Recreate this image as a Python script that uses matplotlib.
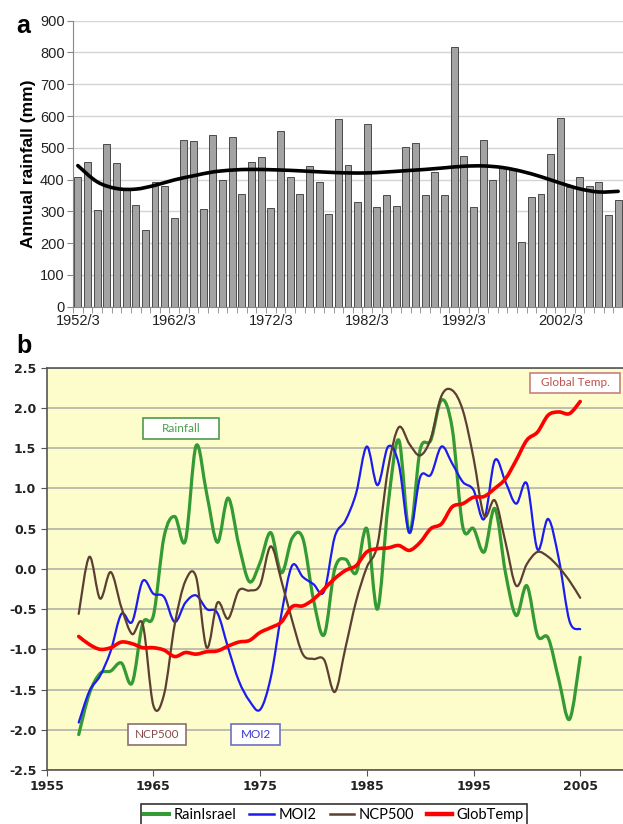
import numpy as np
import matplotlib
matplotlib.use("Agg")
import matplotlib.pyplot as plt
from matplotlib.path import Path
from matplotlib.patches import PathPatch, Rectangle
from matplotlib.lines import Line2D

# ---------------- data: panel a ----------------
season_start = list(range(1952, 2009))           # 1952/3 ... 2008/9
rainfall_mm = [408, 454, 304, 512, 452, 367, 319, 241, 391, 381,
               279, 524, 522, 306, 540, 398, 535, 354, 456, 470,
               312, 554, 407, 354, 444, 392, 292, 592, 446, 328,
               575, 315, 352, 317, 504, 514, 352, 425, 350, 818,
               474, 313, 524, 399, 435, 432, 203, 346, 356, 479,
               595, 377, 407, 380, 391, 287, 336]
# trend curve, at every second season (1952/3, 1954/5, ...)
trend_start = list(range(1952, 2009, 2))
trend_mm = [444, 393, 372, 370, 382, 399, 412, 424, 430, 432,
            431, 429, 426, 423, 421, 421, 424, 428, 432, 437,
            442, 443, 438, 426, 409, 389, 371, 361, 363]
a_tick_labels = ["1952/3", "1962/3", "1972/3", "1982/3", "1992/3", "2002/3"]

# ---------------- data: panel b ----------------
years_b = list(range(1958, 2006))
rain_israel = [-2.06, -1.55, -1.30, -1.27, -1.17, -1.42, -0.68, -0.58, 0.40, 0.65,
               0.35, 1.53, 0.93, 0.33, 0.88, 0.30, -0.16, 0.08, 0.45, -0.05,
               0.38, 0.38, -0.38, -0.82, 0.00, 0.12, -0.05, 0.50, -0.50, 0.80,
               1.60, 0.45, 1.48, 1.60, 2.10, 1.75, 0.52, 0.50, 0.21, 0.75,
               -0.05, -0.58, -0.21, -0.83, -0.86, -1.38, -1.87, -1.10]
moi2 = [-1.91, -1.52, -1.33, -1.02, -0.56, -0.66, -0.15, -0.31, -0.35, -0.66,
        -0.42, -0.33, -0.50, -0.55, -0.98, -1.39, -1.64, -1.75, -1.35, -0.56,
        0.04, -0.10, -0.19, -0.28, 0.40, 0.60, 0.94, 1.52, 1.04, 1.52,
        1.30, 0.45, 1.14, 1.17, 1.52, 1.31, 1.08, 0.98, 0.62, 1.35,
        1.08, 0.81, 1.06, 0.24, 0.62, 0.12, -0.65, -0.75]
ncp500 = [-0.56, 0.15, -0.37, -0.04, -0.48, -0.81, -0.69, -1.70, -1.56, -0.69,
          -0.15, -0.10, -0.98, -0.42, -0.62, -0.27, -0.27, -0.20, 0.28, -0.15,
          -0.64, -1.06, -1.12, -1.13, -1.53, -0.98, -0.40, 0.02, 0.30, 1.25,
          1.76, 1.55, 1.41, 1.62, 2.15, 2.22, 1.97, 1.38, 0.66, 0.85,
          0.33, -0.21, 0.06, 0.21, 0.15, 0.02, -0.15, -0.36]
glob_temp = [-0.84, -0.94, -1.00, -0.98, -0.91, -0.93, -0.98, -0.98, -1.01, -1.09,
             -1.04, -1.06, -1.03, -1.02, -0.96, -0.91, -0.89, -0.79, -0.73, -0.66,
             -0.47, -0.46, -0.38, -0.25, -0.12, -0.02, 0.04, 0.21, 0.25, 0.26,
             0.29, 0.23, 0.33, 0.50, 0.56, 0.77, 0.81, 0.89, 0.90, 1.00,
             1.12, 1.35, 1.60, 1.70, 1.91, 1.95, 1.93, 2.08]
series_names = ["RainIsrael", "MOI2", "NCP500", "GlobTemp"]
series_colors = ["#349a34", "#1c1cf0", "#5c3f32", "#ff0000"]
series_widths = [2.3, 1.6, 1.6, 2.6]
b_xticks = [1955, 1965, 1975, 1985, 1995, 2005]
b_yticks = [-2.5, -2.0, -1.5, -1.0, -0.5, 0.0, 0.5, 1.0, 1.5, 2.0, 2.5]


def smooth_path(x, y):
    """Excel-style smoothed line: cubic Bezier segments through the data points."""
    pts = np.column_stack([np.asarray(x, float), np.asarray(y, float)])
    n = len(pts)
    verts = [pts[0]]
    codes = [Path.MOVETO]
    for i in range(n - 1):
        p0 = pts[i - 1] if i > 0 else pts[i]
        p1 = pts[i]
        p2 = pts[i + 1]
        p3 = pts[i + 2] if i + 2 < n else pts[i + 1]
        c1 = p1 + (p2 - p0) / 6.0
        c2 = p2 - (p3 - p1) / 6.0
        verts += [c1, c2, p2]
        codes += [Path.CURVE4] * 3
    return Path(verts, codes)


W, H = 623, 824
fig = plt.figure(figsize=(W / 100, H / 100), dpi=100)
plt.rcParams['font.family'] = ['Liberation Sans', 'DejaVu Sans']

# ================= panel a =================
axa = fig.add_axes([73 / W, 1 - 306.7 / H, (623 - 73) / W, (306.7 - 20.7) / H])
idx = [season_start.index(s) for s in season_start]
axa.bar(idx, rainfall_mm, width=0.72, color="#a3a3a3", edgecolor="#4a4a4a",
        linewidth=0.7, zorder=2)
trend_idx = [season_start.index(s) for s in trend_start]
axa.add_patch(PathPatch(smooth_path(trend_idx, trend_mm), facecolor="none",
                        edgecolor="black", lw=2.6, zorder=3, capstyle="round"))
axa.set_xlim(-0.5, len(rainfall_mm) - 0.5)
axa.set_ylim(0, 900)
axa.set_yticks(np.arange(0, 901, 100))
axa.yaxis.grid(True, color="#d4d4d4", lw=1.0, zorder=0)
axa.set_axisbelow(True)
lab_pos = [season_start.index(int(s[:4])) for s in a_tick_labels]
axa.set_xticks(lab_pos)
axa.set_xticklabels(a_tick_labels)
axa.set_xticks(np.arange(-0.5, len(rainfall_mm), 1), minor=True)
axa.tick_params(axis="x", which="major", length=0, pad=5, labelsize=10.5, colors="#222")
axa.tick_params(axis="x", which="minor", length=4, color="#888", direction="out")
axa.tick_params(axis="y", length=4, color="#888", labelsize=10.5, labelcolor="#222", pad=2)
for s in ["top", "right"]:
    axa.spines[s].set_visible(False)
axa.spines["left"].set_color("#888")
axa.spines["bottom"].set_color("#888")
axa.set_ylabel("Annual rainfall (mm)", fontsize=12.5, fontweight="bold", labelpad=3)
fig.text(16 / W, 1 - 26 / H, "a", fontsize=18, fontweight="bold", va="center", ha="left")

# ================= panel b =================
x0b, x1b = 46.7, 623
axb = fig.add_axes([x0b / W, 1 - 770 / H, (x1b - x0b) / W, (770 - 367.7) / H])
axb.set_facecolor("#fdfdcb")
axb.set_xlim(1955, 1955 + (x1b - x0b) / 10.67)
axb.set_ylim(-2.5, 2.5)
axb.set_yticks(b_yticks)
axb.set_yticklabels([f"{v:.1f}" for v in b_yticks])
axb.set_xticks(b_xticks)
axb.yaxis.grid(True, color="#b9b9aa", lw=1.3, zorder=0)
axb.set_axisbelow(True)

all_series = [rain_israel, moi2, ncp500, glob_temp]
handles = []
for k, (vals, name, col, lw) in enumerate(zip(all_series, series_names, series_colors, series_widths)):
    p = PathPatch(smooth_path(years_b, vals), facecolor="none", edgecolor=col,
                  lw=lw, zorder=3 + k, capstyle="round", joinstyle="round")
    axb.add_patch(p)
    handles.append(Line2D([], [], color=col, lw=lw + (0.6 if k in (0, 3) else 0.2), label=name))

axb.spines["right"].set_visible(False)
for s in ["left", "bottom", "top"]:
    axb.spines[s].set_color("#555555")
    axb.spines[s].set_linewidth(1.2)
axb.tick_params(axis="both", length=4, color="#555", labelsize=10, labelcolor="#222")
for lab in axb.get_xticklabels() + axb.get_yticklabels():
    lab.set_family(["DejaVu Sans"])
    lab.set_fontsize(9)
    lab.set_fontweight("bold")

# annotation boxes (axes fraction)
boxes = [
    ("Rainfall", 0.167, 0.823, 0.132, 0.052, "#4a9e4a", "#4f9a4f"),
    ("Global Temp.", 0.8393, 0.938, 0.1562, 0.0497, "#c0504d", "#c98080"),
    ("NCP500", 0.1411, 0.0621, 0.1006, 0.0522, "#8b4a4a", "#8a7070"),
    ("MOI2", 0.3205, 0.0621, 0.0838, 0.0522, "#3a3acc", "#7070c0"),
]
for txt, bx, by, bw, bh, tc, ec in boxes:
    axb.add_patch(Rectangle((bx, by), bw, bh, transform=axb.transAxes,
                            facecolor="white", edgecolor=ec, lw=1.2, zorder=10))
    axb.text(bx + bw / 2, by + bh / 2, txt, transform=axb.transAxes, ha="center",
             va="center", color=tc, fontsize=8.5, family=["Lato", "DejaVu Sans"], zorder=11)

fig.text(16 / W, 1 - 346 / H, "b", fontsize=18, fontweight="bold", va="center", ha="left")

leg = fig.legend(handles=handles, loc="upper center", bbox_to_anchor=(334 / W, 1 - 804 / H),
                 ncol=4, frameon=True, fancybox=False, edgecolor="black",
                 prop={"family": ["Lato", "DejaVu Sans"], "size": 10.5},
                 handlelength=1.7, handletextpad=0.3, columnspacing=0.9,
                 borderpad=0.25, borderaxespad=0)
leg.get_frame().set_linewidth(1.2)

fig.savefig("out.png", dpi=100)
